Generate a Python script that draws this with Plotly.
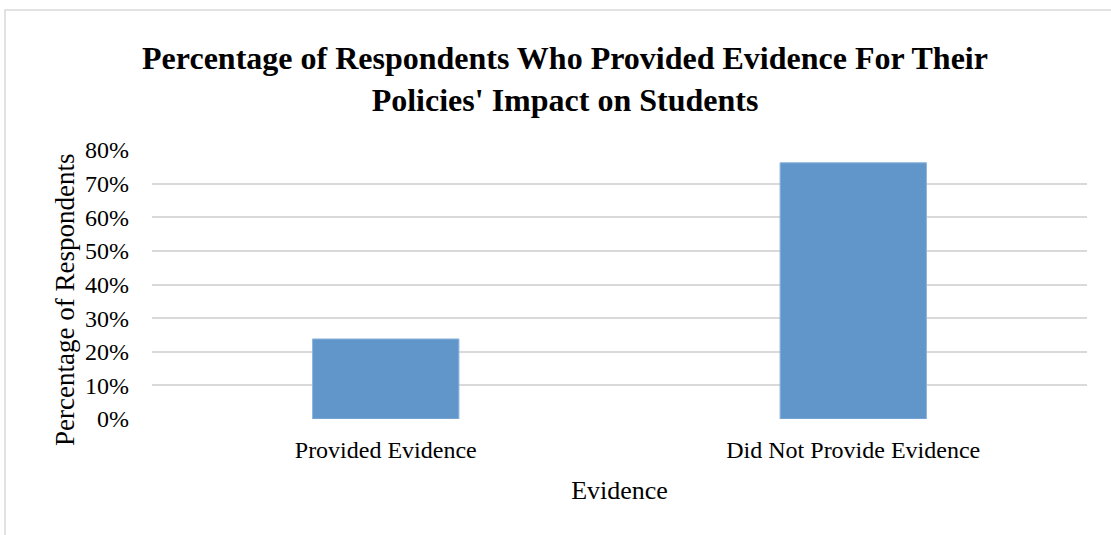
import plotly.graph_objects as go

# Survey results
categories = ["Provided Evidence", "Did Not Provide Evidence"]
percentages = [23.8, 76.2]
y_ticks = [0, 10, 20, 30, 40, 50, 60, 70, 80]
y_tick_labels = ["0%", "10%", "20%", "30%", "40%", "50%", "60%", "70%", "80%"]

chart_title = ("Percentage of Respondents Who Provided Evidence For Their<br>"
               "Policies' Impact on Students")
x_title = "Evidence"
y_title = "Percentage of Respondents"

serif = "Liberation Serif, Times New Roman, serif"
bar_color = "#6096C9"
grid_color = "#D9D9D9"

W, H = 1111, 535
L, R, T, B = 152, 24, 150, 116
pw = W - L - R
ph = H - T - B

fig = go.Figure(
    go.Bar(
        x=categories,
        y=percentages,
        marker=dict(color=bar_color, line=dict(color="#8DB3DC", width=1)),
        width=0.313,
        hoverinfo="skip",
    )
)

fig.update_layout(
    width=W,
    height=H,
    margin=dict(l=L, r=R, t=T, b=B, pad=0),
    paper_bgcolor="white",
    plot_bgcolor="white",
    showlegend=False,
    font=dict(family=serif, color="#000000", size=24),
    title=dict(
        text=chart_title,
        font=dict(family=serif, size=32, color="#000000", weight="bold"),
        x=(565 - L) / pw,
        xref="paper",
        xanchor="center",
        y=1 - 69 / H,
        yref="container",
        yanchor="top",
    ),
    xaxis=dict(
        type="category",
        range=[-0.5, 1.5],
        showgrid=False,
        zeroline=False,
        showline=False,
        ticks="",
        tickfont=dict(family=serif, size=24, color="#000000"),
        ticklabelstandoff=14,
        title=dict(text=x_title, font=dict(family=serif, size=26, color="#000000"), standoff=18),
        fixedrange=True,
    ),
    yaxis=dict(
        range=[0, 80],
        tickvals=y_ticks,
        ticktext=y_tick_labels,
        showgrid=True,
        gridcolor=grid_color,
        gridwidth=1.5,
        zeroline=False,
        showline=False,
        ticks="",
        tickfont=dict(family=serif, size=24, color="#000000"),
        ticklabelstandoff=22,
        fixedrange=True,
    ),
)

# Vertical axis title
fig.add_annotation(
    text=y_title,
    textangle=-90,
    xref="paper",
    yref="paper",
    x=(65 - L) / pw,
    y=(H - B - 300) / ph,
    xanchor="center",
    yanchor="middle",
    showarrow=False,
    font=dict(family=serif, size=27, color="#000000"),
)

# Light frame around the chart area
fig.add_shape(
    type="rect",
    xref="paper",
    yref="paper",
    x0=(5 - L) / pw,
    x1=(W + 20 - L) / pw,
    y0=-(B + 20) / ph,
    y1=1 + (T - 10) / ph,
    line=dict(color="#D9D9D9", width=1.5),
    fillcolor="rgba(0,0,0,0)",
    layer="below",
)

fig.write_html("out.html", config={"displayModeBar": False})
